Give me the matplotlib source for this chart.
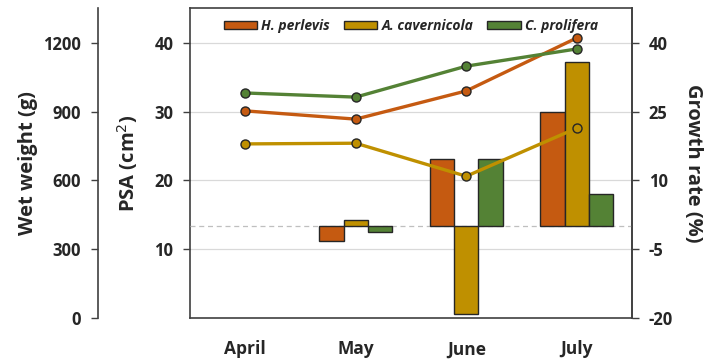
import matplotlib
matplotlib.use("Agg")
import matplotlib.pyplot as plt
import numpy as np

months = ["April", "May", "June", "July"]
species = ["H. perlevis", "A. cavernicola", "C. prolifera"]
colors = ["#C55A11", "#BF9000", "#548235"]

# Wet weight (g) lines
wet_hp = [903, 867, 990, 1221]
wet_ac = [759, 762, 618, 828]
wet_cp = [981, 963, 1098, 1173]

# Growth rate (%) bars (April has no bar)
gr_hp = [np.nan, -3.3, 14.6, 24.9]
gr_ac = [np.nan, 1.3, -19.1, 35.7]
gr_cp = [np.nan, -1.3, 14.6, 7.1]

psa_ticks = [10, 20, 30, 40]
wet_ticks = [0, 300, 600, 900, 1200]
gr_ticks = [-20, -5, 10, 25, 40]

plt.rcParams['font.family'] = ['Open Sans', 'DejaVu Sans']
txt = "#262626"
tfs = 12

fig = plt.figure(figsize=(7.18, 3.6), dpi=100)
ax = fig.add_axes([190/718, 1-318/360, (632-190)/718, (318-8)/360])

x = np.arange(len(months))
ax.set_xlim(-0.5, 3.5)
ax.set_ylim(0, 45.05)
ax.set_yticks(psa_ticks)
ax.set_yticklabels([str(t) for t in psa_ticks], fontsize=tfs, fontweight='bold', color=txt)
ax.grid(axis='y', color='#d9d9d9', linewidth=0.9, zorder=0)
ax.set_axisbelow(True)
ax.set_xticks(x)
ax.set_xticklabels(months, fontsize=12.5, fontweight='bold', color=txt)
ax.tick_params(axis='x', length=0, pad=16)
ax.tick_params(axis='y', direction='out', length=5, width=1, color='#404040', pad=7)
ax.set_ylabel("PSA (cm$^2$)", fontsize=14.5, fontweight='bold', color=txt, labelpad=10)
for s in ax.spines.values():
    s.set_color('#404040')
    s.set_linewidth(1.2)

# growth axis (bars)
ax2 = ax.twinx()
ax2.set_ylim(-20, 47.57)
ax2.set_yticks(gr_ticks)
ax2.set_yticklabels([str(t) for t in gr_ticks], fontsize=tfs, fontweight='bold', color=txt)
ax2.tick_params(axis='y', direction='out', length=5, width=1, color='#404040', pad=7)
ax2.set_ylabel("Growth rate (%)", fontsize=14.5, fontweight='bold', color=txt, rotation=270, labelpad=22)
for s in ax2.spines.values():
    s.set_visible(False)
ax2.spines['right'].set_visible(True)
ax2.spines['right'].set_color('#404040')
ax2.spines['right'].set_linewidth(1.2)
ax2.axhline(0, color='#bfbfbf', linestyle=(0, (4, 3)), linewidth=0.9, zorder=1)

w = 0.22
handles = []
for i, (vals, c, name) in enumerate(zip([gr_hp, gr_ac, gr_cp], colors, species)):
    b = ax2.bar(x + (i - 1) * w, vals, width=w, color=c, edgecolor='#262626', linewidth=1.0,
                label=name, zorder=2)
    handles.append(b)

# wet weight axis (lines), spine far left
ax3 = ax.twinx()
ax3.yaxis.set_label_position('left')
ax3.yaxis.set_ticks_position('left')
for s in ax3.spines.values():
    s.set_visible(False)
ax3.spines['left'].set_visible(True)
ax3.spines['left'].set_position(('axes', (98-190)/442))
ax3.spines['left'].set_color('#404040')
ax3.spines['left'].set_linewidth(1.2)
ax3.set_ylim(0, 45.05*30)
ax3.set_yticks(wet_ticks)
ax3.set_yticklabels([str(t) for t in wet_ticks], fontsize=tfs, fontweight='bold', color=txt)
ax3.tick_params(axis='y', direction='out', length=5, width=1, color='#404040', pad=7)
ax3.set_ylabel("Wet weight (g)", fontsize=14.5, fontweight='bold', color=txt, labelpad=4)

for vals, c in zip([wet_ac, wet_hp, wet_cp], [colors[1], colors[0], colors[2]]):
    ax3.plot(x, vals, color=c, linewidth=2.4, marker='o', markersize=6.5,
             markerfacecolor=c, markeredgecolor='#262626', markeredgewidth=1.0, zorder=3)

leg = ax3.legend(handles, species, loc='upper center', bbox_to_anchor=(0.50, 1.005), ncol=3,
                 frameon=False, fontsize=10, handlelength=2.4, handleheight=0.55,
                 handletextpad=0.3, columnspacing=1.0)
for t in leg.get_texts():
    t.set_fontstyle('italic')
    t.set_fontweight('bold')
    t.set_color(txt)

fig.savefig("out.png", dpi=100)
